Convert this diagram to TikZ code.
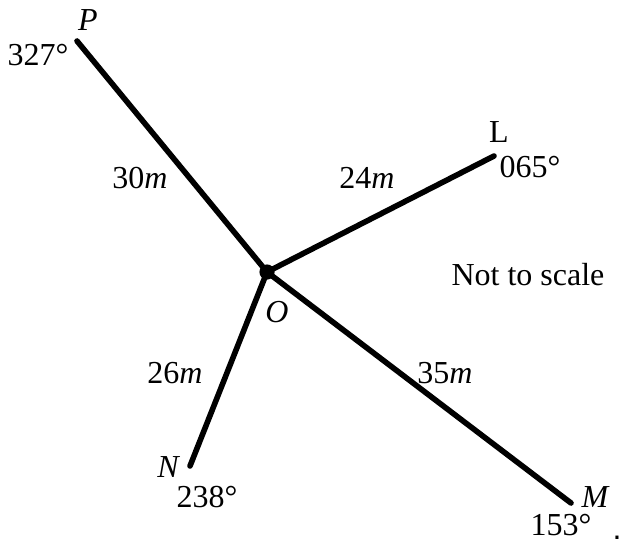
\documentclass[tikz,border=0pt]{standalone}
\usepackage{fontspec}
\setmainfont{Liberation Serif}
\newfontfamily\dotfont{Liberation Sans}
\usepackage{tikz}
\usetikzlibrary{positioning}
\tikzset{
  leg/.style={draw=black,line width=2.8pt,line cap=round},
  ptname/.style={font=\fontsize{16}{18}\selectfont\itshape,inner sep=0pt},
  bearing/.style={font=\fontsize{16}{18}\selectfont,inner sep=0pt},
  distlabel/.style={font=\fontsize{16}{18}\selectfont,inner sep=0pt}
}

\begin{document}
\begin{tikzpicture}[x=0.5pt,y=-0.5pt]
  \useasboundingbox (0,0) rectangle (620,547);
  % points
  \coordinate (O) at (267,272);
  \coordinate (P) at (77,41);
  \coordinate (L) at (494,156);
  \coordinate (N) at (190,466);
  \coordinate (M) at (571,503);
  % legs from O
  \draw[leg] (O) -- (P);
  \draw[leg] (O) -- (L);
  \draw[leg] (O) -- (N);
  \draw[leg] (O) -- (M);
  \fill (O) circle[radius=3.8pt];

  % names
  \node[ptname] (oname) at (277,312) {O};
  \node[ptname] (pname) at (88,20) {P};
  \node[bearing] (lname) at (499,132) {L};
  \node[ptname] (nname) at (168,467) {N};
  \node[ptname] (mname) at (595,497) {M};

  % bearings
  \node[bearing] (pbear) at (38,55) {327°};
  \node[bearing] (lbear) at (530,167) {065°};
  \node[bearing] (nbear) at (207,497) {238°};
  \node[bearing] (mbear) at (561,525) {153°};

  % distances
  \node[distlabel] (op) at (140,178) {30\textit{m}};
  \node[distlabel] (ol) at (367,178) {24\textit{m}};
  \node[distlabel] (on) at (175,373) {26\textit{m}};
  \node[distlabel] (om) at (445,373) {35\textit{m}};

  \node[distlabel] (note) at (528,275) {Not to scale};
  \node[inner sep=0pt,font=\dotfont\fontsize{16}{18}\selectfont] (stop) at (617,538) {.};
\end{tikzpicture}
\end{document}
